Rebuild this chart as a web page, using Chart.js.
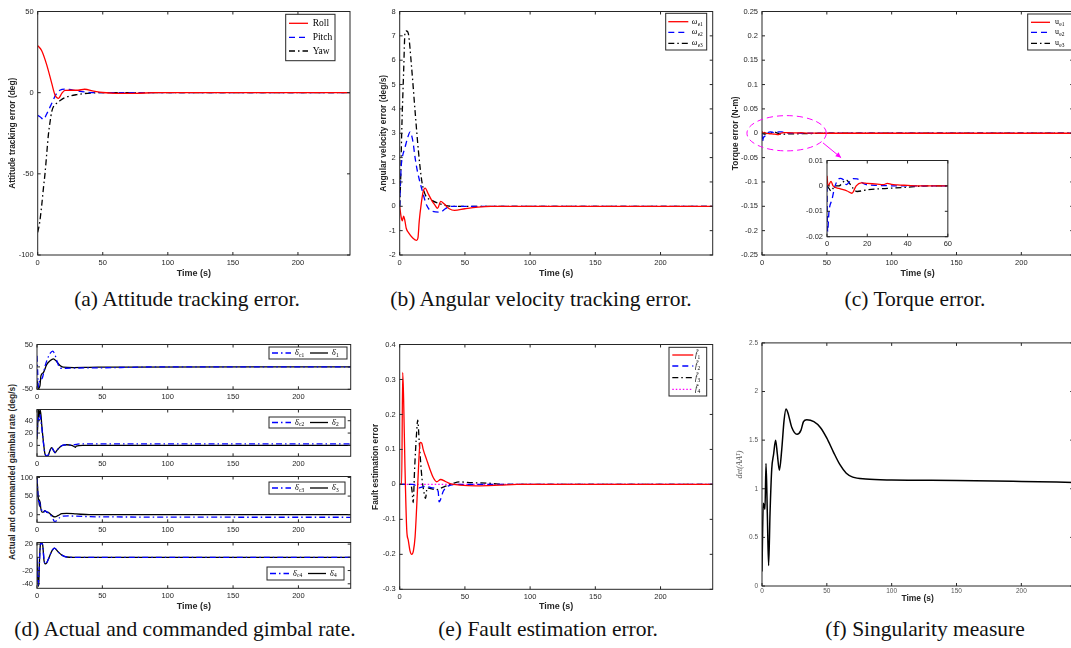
<!DOCTYPE html>
<html><head><meta charset="utf-8">
<script src="https://cdn.jsdelivr.net/npm/chart.js@4.4.0/dist/chart.umd.min.js"></script>
<style>
html,body{margin:0;padding:0;background:#fff;width:1071px;height:648px;overflow:hidden;position:relative;}
canvas{position:absolute;}
.cap{position:absolute;font-family:"Liberation Serif","Times New Roman",serif;font-size:21.5px;color:#111;white-space:nowrap;transform:translate(-50%,-50%);line-height:1;}
.ylab{position:absolute;font-family:"Liberation Sans",Arial,sans-serif;font-weight:bold;font-size:8.4px;color:#262626;white-space:nowrap;transform:translate(-50%,-50%) rotate(-90deg);line-height:1;}
</style></head><body>
<div class="cap" style="left:187px;top:300px">(a) Attitude tracking error.</div>
<div class="cap" style="left:541px;top:300px">(b) Angular velocity tracking error.</div>
<div class="cap" style="left:915px;top:300px">(c) Torque error.</div>
<div class="cap" style="left:185px;top:630px">(d) Actual and commanded gimbal rate.</div>
<div class="cap" style="left:548px;top:630px">(e) Fault estimation error.</div>
<div class="cap" style="left:925px;top:630px">(f) Singularity measure</div>
<div class="ylab" style="left:11.7px;top:472px">Actual and commanded gaimbal rate (deg/s)</div>
<script>
// ---------- shared ticks ----------
const TIME_TICKS = [0, 50, 100, 150, 200];
const TIME_LABELS = ['0', '50', '100', '150', '200'];

// ---------- (a) attitude tracking error ----------
const A_NAMES = ['Roll', 'Pitch', 'Yaw'];
const A_YTICKS = [-100, -50, 0, 50];
const A_YLABELS = ['-100', '-50', '0', '50'];
const ROLL_T = [0, 3, 7, 10.8, 13.3, 16, 18.5, 21, 26, 31, 36, 43, 50, 60, 75, 90, 240];
const ROLL_V = [29, 26, 17, 5.7, -1.4, -3.5, -0.4, 1.4, 1.5, 1.5, 2.1, 1.0, 0.1, -0.4, -0.4, 0, 0];
const PITCH_T = [0, 2, 4.4, 7, 10, 14.6, 17, 21, 24, 31, 38, 45, 240];
const PITCH_V = [-14, -15, -16.5, -13, -8, -0.4, 1.5, 2.2, 2, 1, 0.3, 0, 0];
const YAW_T = [0, 1.5, 3, 4.5, 5.6, 7, 8.2, 9.5, 10.8, 12.5, 14.6, 17, 19.7, 23, 26, 30, 35, 42, 48, 240];
const YAW_V = [-86, -80, -70, -58, -50, -37, -26, -18, -11.6, -8, -6.5, -5, -3.5, -2.5, -1.8, -1.2, -0.6, -0.2, 0, 0];

// ---------- (b) angular velocity error ----------
const B_NAMES = [['ω', 'e1'], ['ω', 'e2'], ['ω', 'e3']];
const B_YTICKS = [-2, -1, 0, 1, 2, 3, 4, 5, 6, 7, 8];
const B_YLABELS = ['-2', '-1', '0', '1', '2', '3', '4', '5', '6', '7', '8'];
const W1_T = [0, 1, 2, 3, 4, 5, 7, 10, 13, 14, 15, 16.5, 18, 19.5, 22, 25, 27, 29, 31.5, 34, 38, 42, 50, 60, 70, 240];
const W1_V = [0, -0.4, -0.6, -0.4, -0.6, -0.9, -1.1, -1.3, -1.4, -1.3, -0.6, 0.1, 0.6, 0.75, 0.5, 0.2, 0.05, -0.08, 0.2, 0.1, -0.1, -0.17, -0.1, -0.03, 0, 0];
const W2_T = [0, 1, 2, 4, 6, 7.9, 10, 11.8, 13.5, 16.9, 20.7, 24.5, 31, 35, 38.6, 240];
const W2_V = [0, 1.5, 2.0, 2.4, 2.8, 3.05, 2.7, 2.0, 1.46, 0.72, 0.04, -0.2, -0.24, -0.1, 0, 0];
const W3_T = [0, 0.8, 1.5, 3, 4.1, 5.4, 6.6, 9.2, 11.8, 14.3, 16.9, 19.4, 24.5, 31, 40, 240];
const W3_V = [0, 1.2, 2.95, 5.5, 7.15, 7.2, 7.1, 5.66, 3.9, 2.3, 1.05, 0.5, 0.25, 0.1, 0, 0];

// ---------- (c) torque error ----------
const C_NAMES = [['u', 'e1'], ['u', 'e2'], ['u', 'e3']];
const C_YTICKS = [-0.25, -0.2, -0.15, -0.1, -0.05, 0, 0.05, 0.1, 0.15, 0.2, 0.25];
const C_YLABELS = ['-0.25', '-0.2', '-0.15', '-0.1', '-0.05', '0', '0.05', '0.1', '0.15', '0.2', '0.25'];
const INSET_XTICKS = [0, 20, 40, 60];
const INSET_XLABELS = ['0', '20', '40', '60'];
const INSET_YTICKS = [-0.02, -0.01, 0, 0.01];
const INSET_YLABELS = ['-0.02', '-0.01', '0', '0.01'];
const U1_T = [0, 0.5, 1, 2, 3, 6, 10, 12.4, 14.5, 17, 20, 25, 28, 30, 32, 35, 40, 45, 60, 240];
const U1_V = [0.004, 0, 0.0005, 0.0018, 0, -0.001, -0.002, -0.0029, 0, 0.0012, 0.001, 0.0007, 0.0005, 0.001, 0.0006, 0.0004, 0.0002, 0, 0, 0];
const U2_T = [0, 0.3, 1, 2.5, 4, 6.5, 8, 9.7, 11, 13, 15, 17, 19.5, 25, 35, 60, 240];
const U2_V = [0, -0.018, -0.01, -0.0053, 0, 0.003, 0.0025, 0.0005, 0.0015, 0.0029, 0.0028, 0.0015, 0.0005, 0.0002, 0, 0, 0];
const U3_T = [0, 1, 2, 3, 4, 6, 8, 9.6, 11, 13, 15, 20, 30, 40, 50, 60, 240];
const U3_V = [0, -0.001, -0.002, -0.001, 0, 0, 0.0015, 0.0023, 0.0012, -0.001, -0.0022, -0.0015, -0.001, -0.0005, 0, 0, 0];

// ---------- (d) gimbal rates ----------
const D_NAMES = [[['δ̇', 'c1'], ['δ̇', '1']], [['δ̇', 'c2'], ['δ̇', '2']], [['δ̇', 'c3'], ['δ̇', '3']], [['δ̇', 'c4'], ['δ̇', '4']]];
const D1_YTICKS = [-50, 0, 50];   const D1_YLABELS = ['-50', '0', '50'];
const D2_YTICKS = [0, 20, 40];    const D2_YLABELS = ['0', '20', '40'];
const D3_YTICKS = [0, 50, 100];   const D3_YLABELS = ['0', '50', '100'];
const D4_YTICKS = [-40, -20, 0, 20]; const D4_YLABELS = ['-40', '-20', '0', '20'];
const D1_T = [0, 0.5, 1, 2.3, 3, 4.8, 7.4, 10, 12.5, 15, 17.6, 20, 28, 40, 60, 240];
const D1_V = [-30, -40, -48, -41, -20, -13, 5, 13.6, 18, 12, 3, -0.7, -1.4, -1, -0.3, 0];
const DC1_T = [0, 0.5, 1, 2, 4, 6, 8, 10, 12, 14, 15, 18, 22, 30, 50, 70, 90, 240];
const DC1_V = [25, -10, -45, -30, -25, 0, 18, 30, 35, 25, 15, -3, -3, -2.5, -2, -1, 0, 0];
const D2_T = [0, 0.5, 1, 1.5, 2.3, 3, 3.6, 4.8, 6, 7.4, 8.7, 10, 11.2, 12.5, 13.8, 15, 17.6, 20, 22.7, 26.5, 29, 29.5, 30, 35, 240];
const D2_V = [10, 30, 58, 45, 58, 50, 34, 8, -13, -18, -15.6, -7.8, -3.6, -7.8, -12, -8.8, -2.6, 0.5, 1, 0, -2.6, -3, -1, 0, 0];
const DC2_T = [0, 0.5, 1, 1.5, 2.3, 3, 3.6, 4.8, 6, 7.4, 8.7, 10, 11.2, 12.5, 13.8, 15, 17.6, 20, 22.7, 26.5, 30, 33, 40, 240];
const DC2_V = [15, 35, 45, 40, 50, 40, 30, 6, -12, -17, -15, -8, -3.5, -7.5, -11.5, -8.5, -2.5, 0.5, 1, 0.5, 1.5, 2.5, 2.6, 2.6];
const D3_T = [0, 0.5, 1, 1.5, 1.8, 2, 2.2, 2.4, 2.8, 3.8, 4.8, 6, 7.4, 8.7, 10, 12, 13.8, 16.3, 19, 22.7, 30, 40, 240];
const D3_V = [100, 70, 45, 35, 25, 40, 22, 35, 20, 7, 7, 11, 7, 6, 2.6, -4, -6, -2, 2.6, 3.4, 2, 0, 0];
const DC3_T = [0, 0.5, 1, 1.5, 2, 2.5, 3, 4, 5, 6, 8, 10, 12, 13.8, 15, 17.6, 20, 25, 30, 50, 240];
const DC3_V = [100, 65, 40, 30, 35, 22, 18, 8, 6, 10, 6, 2, -10, -20, -15, -7.7, -4, -3.4, -4, -6, -7];
const D4_T = [0, 0.5, 1.3, 1.8, 2.6, 3.3, 4.3, 5.4, 6.6, 8.7, 11.2, 13.3, 16.3, 19, 22.7, 28, 240];
const D4_V = [0, -30, -44, -10, 19, 21, 19, -5.3, -10, -3, 9, 14, 8, 3.4, 0.5, 0, 0];
const DC4_T = [0, 0.5, 1, 1.6, 2.4, 3.2, 4.3, 5.4, 6.6, 8.7, 11.2, 13.3, 16.3, 19, 22.7, 28, 240];
const DC4_V = [0, -35, -42, -20, 15, 22, 19, -4, -10, -3, 9, 14, 8, 3.4, 0.5, 0, 0];

// ---------- (e) fault estimation error ----------
const E_NAMES = [['f̃', '1'], ['f̃', '2'], ['f̃', '3'], ['f̃', '4']];
const E_YTICKS = [-0.3, -0.2, -0.1, 0, 0.1, 0.2, 0.3, 0.4];
const E_YLABELS = ['-0.3', '-0.2', '-0.1', '0', '0.1', '0.2', '0.3', '0.4'];
const F1_T = [0, 1.5, 2.3, 3, 4, 5.4, 6.6, 7.9, 9.2, 10.5, 11.8, 13, 14.3, 15.6, 16.9, 18, 20.7, 23.3, 25.8, 28.4, 31.4, 34.8, 38.6, 46, 59, 77, 90, 240];
const F1_V = [0, 0, 0.32, 0.245, 0.057, -0.13, -0.16, -0.19, -0.2, -0.19, -0.15, -0.066, 0.038, 0.12, 0.118, 0.1, 0.07, 0.042, 0.019, 0.0075, 0.014, 0.009, 0.002, -0.002, -0.004, -0.002, 0, 0];
const F2_T = [0, 10, 13, 15, 17, 20, 25, 29.5, 30.2, 33.5, 37, 45, 240];
const F2_V = [0, 0, -0.005, -0.01, -0.008, -0.005, -0.01, -0.02, -0.05, -0.019, -0.005, 0, 0];
const F3_T = [0, 8.5, 9.5, 10.3, 11.5, 13, 13.8, 15, 17, 18.5, 19.8, 21, 24, 28, 32, 36, 41, 46, 55, 70, 80, 240];
const F3_V = [0, 0, -0.02, -0.052, 0.05, 0.15, 0.184, 0.12, 0.02, -0.02, -0.04, -0.01, -0.012, -0.015, -0.01, -0.004, 0.003, 0.007, 0.005, 0.003, 0, 0];
const F4_T = [0, 240];
const F4_V = [0, 0];

// ---------- (f) singularity measure ----------
const F_YTICKS = [0, 0.5, 1, 1.5, 2, 2.5];
const F_YLABELS = ['0', '0.5', '1', '1.5', '2', '2.5'];
const S_T = [0, 0.5, 1, 1.8, 2.3, 3.1, 4.1, 5.1, 6.2, 7.5, 9, 10.5, 11.8, 13.4, 15.2, 17, 18.5, 20, 23, 27, 30, 32, 34.5, 40, 45, 50, 55, 60, 65, 70, 80, 100, 150, 200, 240];
const S_V = [0.15, 0.59, 0.85, 0.82, 0.79, 1.26, 0.75, 0.21, 0.75, 1.2, 1.36, 1.5, 1.36, 1.19, 1.4, 1.7, 1.82, 1.78, 1.63, 1.56, 1.6, 1.69, 1.71, 1.69, 1.63, 1.52, 1.38, 1.25, 1.16, 1.12, 1.1, 1.09, 1.085, 1.075, 1.065];

// ================= helpers =================
const FONT_SANS = '"Liberation Sans", Arial, sans-serif';
const FONT_SERIF = '"Liberation Serif", "Times New Roman", serif';
const RED = '#ff0000', BLUE = '#0000ff', BLACK = '#000000', MAG = '#ff00ff';
const DASH = { solid: [], dashed: [6, 4], dashdot: [6, 3, 1.5, 3], dotted: [1.5, 2] };

function pts(t, v) { return t.map((x, i) => ({ x: x, y: v[i] })); }
function ds(label, t, v, color, dash, w) {
  return { label: Array.isArray(label) ? label.join('') : label, data: pts(t, v), borderColor: color,
    borderDash: DASH[dash], borderWidth: w || 1.3, pointRadius: 0, fill: false,
    cubicInterpolationMode: 'monotone', tension: 0 };
}

function drawLegend(ctx, lg) {
  ctx.save();
  const [x0, y0, x1, y1] = lg.box;
  ctx.fillStyle = '#fff'; ctx.fillRect(x0, y0, x1 - x0, y1 - y0);
  ctx.strokeStyle = '#262626'; ctx.lineWidth = 1; ctx.setLineDash([]);
  ctx.strokeRect(x0, y0, x1 - x0, y1 - y0);
  lg.items.forEach(it => {
    ctx.beginPath(); ctx.setLineDash(DASH[it.dash]); ctx.strokeStyle = it.color; ctx.lineWidth = it.w || 1.3;
    ctx.moveTo(it.x1, it.y); ctx.lineTo(it.x2, it.y); ctx.stroke(); ctx.setLineDash([]);
    const sty = lg.italic ? 'italic ' : '';
    ctx.fillStyle = '#000'; ctx.textBaseline = 'middle'; ctx.textAlign = 'left';
    const main = Array.isArray(it.text) ? it.text[0] : it.text;
    const sub = Array.isArray(it.text) ? it.text[1] : null;
    ctx.font = sty + lg.size + 'px ' + FONT_SERIF;
    ctx.fillText(main, it.tx, it.y);
    if (sub) {
      const w = ctx.measureText(main).width;
      ctx.font = (lg.size * 0.68).toFixed(2) + 'px ' + FONT_SERIF;
      ctx.fillText(sub, it.tx + w + 0.3, it.y + lg.size * 0.3);
    }
  });
  ctx.restore();
}

const boxPlugin = {
  id: 'mbox',
  beforeDatasetsDraw(chart, a, o) {
    if (o.bg) { const { ctx, chartArea: ca } = chart; ctx.save(); ctx.fillStyle = o.bg; ctx.fillRect(ca.left, ca.top, ca.right - ca.left, ca.bottom - ca.top); ctx.restore(); }
  },
  afterDraw(chart, a, o) {
    const { ctx, chartArea: ca, scales } = chart;
    ctx.save();
    ctx.strokeStyle = o.color; ctx.lineWidth = 1; ctx.setLineDash([]);
    ctx.strokeRect(ca.left, ca.top, ca.right - ca.left, ca.bottom - ca.top);
    ctx.beginPath();
    const tl = o.tl;
    scales.x.ticks.forEach(t => { const p = scales.x.getPixelForValue(t.value);
      ctx.moveTo(p, ca.bottom); ctx.lineTo(p, ca.bottom - tl); ctx.moveTo(p, ca.top); ctx.lineTo(p, ca.top + tl); });
    scales.y.ticks.forEach(t => { const p = scales.y.getPixelForValue(t.value);
      ctx.moveTo(ca.left, p); ctx.lineTo(ca.left + tl, p); ctx.moveTo(ca.right, p); ctx.lineTo(ca.right - tl, p); });
    ctx.stroke();
    ctx.restore();
    if (o.ellipse) {
      const e = o.ellipse, X = scales.x, Y = scales.y;
      const cx = X.getPixelForValue(e.cx), cy = Y.getPixelForValue(e.cy);
      const rx = X.getPixelForValue(e.cx + e.rx) - cx, ry = cy - Y.getPixelForValue(e.cy + e.ry);
      ctx.save(); ctx.strokeStyle = MAG; ctx.lineWidth = 1; ctx.setLineDash([6, 4]);
      ctx.beginPath(); ctx.ellipse(cx, cy, rx, ry, 0, 0, Math.PI * 2); ctx.stroke(); ctx.restore();
    }
    if (o.arrow) {
      const r = o.arrow, X = scales.x, Y = scales.y;
      const x1 = X.getPixelForValue(r.x1), y1 = Y.getPixelForValue(r.y1), x2 = X.getPixelForValue(r.x2), y2 = Y.getPixelForValue(r.y2);
      const ang = Math.atan2(y2 - y1, x2 - x1), hl = 6;
      ctx.save(); ctx.strokeStyle = MAG; ctx.fillStyle = MAG; ctx.lineWidth = 1;
      ctx.beginPath(); ctx.moveTo(x1, y1); ctx.lineTo(x2, y2); ctx.stroke();
      ctx.beginPath(); ctx.moveTo(x2, y2);
      ctx.lineTo(x2 - hl * Math.cos(ang - 0.45), y2 - hl * Math.sin(ang - 0.45));
      ctx.lineTo(x2 - hl * Math.cos(ang + 0.45), y2 - hl * Math.sin(ang + 0.45));
      ctx.closePath(); ctx.fill(); ctx.restore();
    }
    if (o.legend) {
      ctx.save(); ctx.translate(-o.off[0], -o.off[1]);
      drawLegend(ctx, o.legend);
      ctx.restore();
    }
  }
};

function mkChart(cfg) {
  const [L, T, R, B] = cfg.rect;
  const PT = cfg.pt || 6;
  const cl = Math.floor(L - cfg.yw), ct = Math.floor(T - PT);
  const yw = L - cl, pt = T - ct;
  const w = Math.ceil(yw + (R - L) + (cfg.pr == null ? 6 : cfg.pr));
  const pr = w - yw - (R - L);
  const h = Math.ceil(pt + (B - T) + cfg.xh);
  const xh = h - pt - (B - T);
  const cv = document.createElement('canvas');
  cv.width = w; cv.height = h;
  cv.style.left = cl + 'px'; cv.style.top = ct + 'px';
  cv.style.width = w + 'px'; cv.style.height = h + 'px';
  document.body.appendChild(cv);
  const tcol = cfg.tickColor || '#262626';
  const tickFont = { family: FONT_SANS, size: cfg.tickSize || 7.5 };
  const ytFont = cfg.ytFont || { family: FONT_SANS, size: 8.4, weight: 'bold' };
  const ytLH = ytFont.size * 1.2;
  const ytpad = cfg.ytx != null ? (cfg.ytx - cl - ytLH / 2) : 0;
  const xtFont = { family: FONT_SANS, size: cfg.xtSize || 9, weight: 'bold' };
  const xtpad = cfg.xty != null ? ((ct + h) - cfg.xty - xtFont.size * 1.2 / 2) : 0;
  return new Chart(cv, {
    type: 'line',
    data: { datasets: cfg.datasets },
    options: {
      responsive: false, animation: false, devicePixelRatio: 1,
      layout: { padding: { left: 0, top: pt, right: pr, bottom: 0 } },
      plugins: { legend: { display: false }, tooltip: { enabled: false },
        mbox: { off: [cl, ct], legend: cfg.legend, ellipse: cfg.ellipse, arrow: cfg.arrow, bg: cfg.bg, tl: 3, color: '#262626' } },
      scales: {
        x: { type: 'linear', min: cfg.xr[0], max: cfg.xr[1],
          afterBuildTicks: s => { s.ticks = cfg.xticks.map(v => ({ value: v })); },
          afterFit: s => { s.height = xh; },
          grid: { display: false, drawTicks: false }, border: { display: false },
          ticks: { padding: cfg.xpad == null ? 3 : cfg.xpad, font: tickFont, color: tcol, maxRotation: 0, autoSkip: false,
            callback: (v, i) => cfg.xlabels[i] },
          title: { display: !!cfg.xtitle, text: cfg.xtitle || '', color: '#262626', font: xtFont, padding: { top: 0, bottom: xtpad } } },
        y: { type: 'linear', min: cfg.yr[0], max: cfg.yr[1],
          afterBuildTicks: s => { s.ticks = cfg.yticks.map(v => ({ value: v })); },
          afterFit: s => { s.width = yw; },
          grid: { display: false, drawTicks: false }, border: { display: false },
          ticks: { padding: 4, font: tickFont, color: tcol, autoSkip: false, callback: (v, i) => cfg.ylabels[i] },
          title: { display: !!cfg.ytitle, text: cfg.ytitle || '', color: cfg.ytColor || '#262626', font: ytFont, padding: { top: ytpad, bottom: 0 } } }
      }
    },
    plugins: [boxPlugin]
  });
}

function legendV(box, names, styles, ys, sx1, sx2, tx, size, italic) {
  return { box, size, italic, items: names.map((n, i) => ({ text: n, y: ys[i], x1: sx1, x2: sx2, tx, color: styles[i][0], dash: styles[i][1] })) };
}
function legendD(box, names, y, dx) {
  return { box, size: 8, italic: false, items: [
    { text: names[0], y, x1: 272 + dx, x2: 291 + dx, tx: 295 + dx, color: BLUE, dash: 'dashdot' },
    { text: names[1], y, x1: 310 + dx, x2: 328 + dx, tx: 332 + dx, color: BLACK, dash: 'solid' } ] };
}

// ================= (a) =================
mkChart({ rect: [37.7, 9, 350, 255], yw: 38, xh: 27, xr: [0, 240], yr: [-100, 50],
  xticks: TIME_TICKS, xlabels: TIME_LABELS, yticks: A_YTICKS, ylabels: A_YLABELS,
  xtitle: 'Time (s)', xty: 274, ytitle: 'Attitude tracking error (deg)', ytx: 12.3,
  datasets: [ds(A_NAMES[0], ROLL_T, ROLL_V, RED, 'solid'), ds(A_NAMES[1], PITCH_T, PITCH_V, BLUE, 'dashed'), ds(A_NAMES[2], YAW_T, YAW_V, BLACK, 'dashdot')],
  legend: legendV([285.7, 14.3, 335, 60.7], A_NAMES, [[RED, 'solid'], [BLUE, 'dashed'], [BLACK, 'dashdot']], [23.3, 37.3, 51], 289, 308, 312.7, 9.5, false)
});

// ================= (b) =================
mkChart({ rect: [399.7, 9.3, 712.7, 255], yw: 40, xh: 27, xr: [0, 240], yr: [-2, 8],
  xticks: TIME_TICKS, xlabels: TIME_LABELS, yticks: B_YTICKS, ylabels: B_YLABELS,
  xtitle: 'Time (s)', xty: 274, ytitle: 'Angular velocity error (deg/s)', ytx: 383.3,
  datasets: [ds(B_NAMES[0], W1_T, W1_V, RED, 'solid'), ds(B_NAMES[1], W2_T, W2_V, BLUE, 'dashed'), ds(B_NAMES[2], W3_T, W3_V, BLACK, 'dashdot')],
  legend: legendV([665.7, 13.3, 706.7, 50], B_NAMES, [[RED, 'solid'], [BLUE, 'dashed'], [BLACK, 'dashdot']], [21.7, 32.3, 43.3], 668.3, 688.3, 691.7, 8, true)
});

// ================= (c) =================
mkChart({ rect: [762, 9, 1073.2, 255], yw: 47, xh: 27, pr: 2, xr: [0, 240], yr: [-0.25, 0.25],
  xticks: TIME_TICKS, xlabels: TIME_LABELS, yticks: C_YTICKS, ylabels: C_YLABELS,
  xtitle: 'Time (s)', xty: 274, ytitle: 'Torque error (N-m)', ytx: 735.7,
  datasets: [ds(C_NAMES[0], U1_T, U1_V, RED, 'solid'), ds(C_NAMES[1], U2_T, U2_V, BLUE, 'dashed'), ds(C_NAMES[2], U3_T, U3_V, BLACK, 'dashdot')],
  ellipse: { cx: 19, cy: 0, rx: 30.6, ry: 0.0362 },
  arrow: { x1: 47, y1: -0.0197, x2: 61, y2: -0.0502 },
  legend: legendV([1027.7, 14, 1072, 50], C_NAMES, [[RED, 'solid'], [BLUE, 'dashed'], [BLACK, 'dashdot']], [22.3, 32.3, 43.3], 1031, 1050, 1055, 8, false)
});
// inset
mkChart({ rect: [827, 158.7, 948.3, 236.7], yw: 30, xh: 13, xr: [0, 60], yr: [-0.02, 0.01],
  xticks: INSET_XTICKS, xlabels: INSET_XLABELS, yticks: INSET_YTICKS, ylabels: INSET_YLABELS, bg: '#ffffff',
  datasets: [ds(C_NAMES[0], U1_T, U1_V, RED, 'solid'), ds(C_NAMES[1], U2_T, U2_V, BLUE, 'dashed'), ds(C_NAMES[2], U3_T, U3_V, BLACK, 'dashdot')]
});

// ================= (d) =================
const D_RECTS = [[37, 342, 350.7, 389.3], [37, 407.7, 350.7, 456.3], [37, 474.3, 350.7, 522.3], [37, 540.7, 350.7, 588.3]];
const D_YR = [[-50, 50], [-17.7, 58.2], [-20.5, 102.6], [-46.8, 22.4]];
const D_SERIES = [[DC1_T, DC1_V, D1_T, D1_V], [DC2_T, DC2_V, D2_T, D2_V], [DC3_T, DC3_V, D3_T, D3_V], [DC4_T, DC4_V, D4_T, D4_V]];
const D_YT = [[D1_YTICKS, D1_YLABELS], [D2_YTICKS, D2_YLABELS], [D3_YTICKS, D3_YLABELS], [D4_YTICKS, D4_YLABELS]];
const D_LEG = [[[269, 347, 347, 359], 353, 0], [[269, 417, 345, 428], 422.5, 0], [[269, 482, 345, 494], 488, 0], [[267, 567, 344, 580], 573.5, -2]];
for (let k = 0; k < 4; k++) {
  const s = D_SERIES[k];
  mkChart({ rect: D_RECTS[k], yw: 36, xh: k === 3 ? 27 : 14, xr: [0, 240], yr: D_YR[k],
    xticks: TIME_TICKS, xlabels: TIME_LABELS, yticks: D_YT[k][0], ylabels: D_YT[k][1],
    xtitle: k === 3 ? 'Time (s)' : '', xty: 606.7,
    datasets: [ds(D_NAMES[k][0], s[0], s[1], BLUE, 'dashdot'), ds(D_NAMES[k][1], s[2], s[3], BLACK, 'solid')],
    legend: legendD(D_LEG[k][0], D_NAMES[k], D_LEG[k][1], D_LEG[k][2])
  });
}

// ================= (e) =================
mkChart({ rect: [399.7, 342, 712.7, 589.3], yw: 40, xh: 27, xr: [0, 240], yr: [-0.3, 0.4],
  xticks: TIME_TICKS, xlabels: TIME_LABELS, yticks: E_YTICKS, ylabels: E_YLABELS,
  xtitle: 'Time (s)', xty: 606.7, ytitle: 'Fault estimation error', ytx: 376,
  datasets: [ds(E_NAMES[0], F1_T, F1_V, RED, 'solid'), ds(E_NAMES[1], F2_T, F2_V, BLUE, 'dashed'), ds(E_NAMES[2], F3_T, F3_V, BLACK, 'dashdot'), ds(E_NAMES[3], F4_T, F4_V, MAG, 'dotted')],
  legend: legendV([669, 347.3, 706.7, 396], E_NAMES, [[RED, 'solid'], [BLUE, 'dashed'], [BLACK, 'dashdot'], [MAG, 'dotted']], [355, 366, 377.7, 389.3], 672.3, 693.3, 695, 8, true)
});

// ================= (f) =================
mkChart({ rect: [762, 341.7, 1073.2, 586], yw: 47, xh: 20, pr: 2, xr: [0, 240], yr: [0, 2.5],
  xticks: TIME_TICKS, xlabels: TIME_LABELS, yticks: F_YTICKS, ylabels: F_YLABELS, tickColor: '#555', tickSize: 6.5, xpad: 1,
  xtitle: 'Time (s)', xty: 598.3, xtSize: 8.5, ytitle: 'det(AAᵀ)', ytx: 740, ytColor: '#555',
  ytFont: { family: FONT_SERIF, size: 8, style: 'italic' },
  datasets: [ds('det', S_T, S_V, BLACK, 'solid', 1.5)]
});
</script>
</body></html>
